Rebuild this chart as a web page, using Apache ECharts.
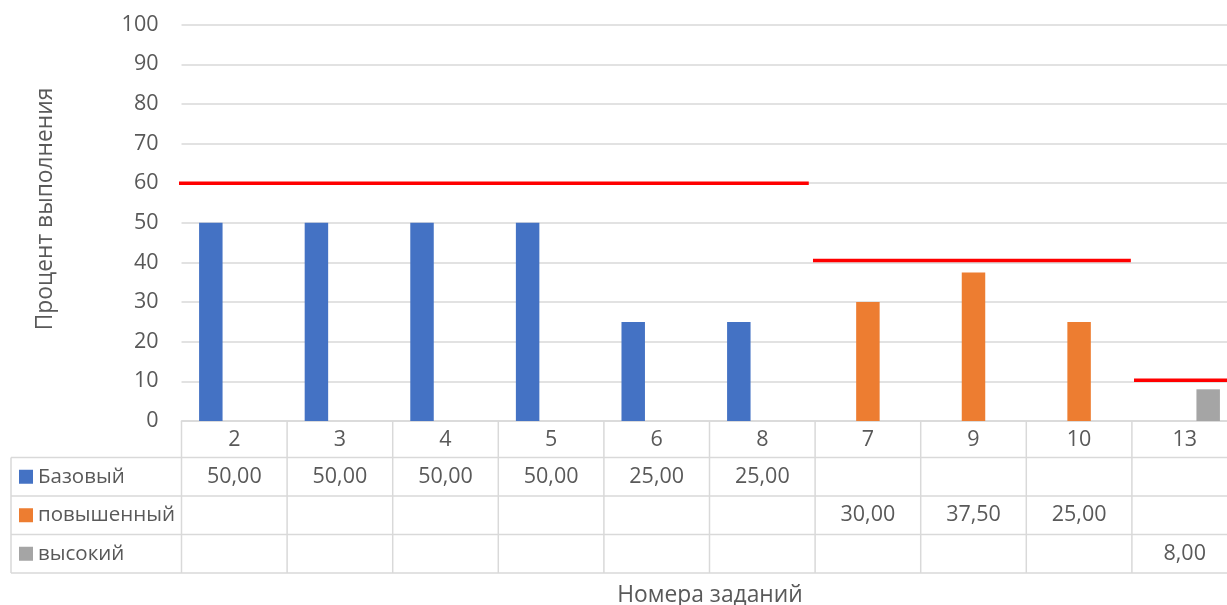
<!DOCTYPE html>
<html><head><meta charset="utf-8">
<script src="https://cdn.jsdelivr.net/npm/echarts@6/dist/echarts.min.js"></script>
<style>html,body{margin:0;padding:0;background:#fff;overflow:hidden}#c{width:1227px;height:605px}</style>
</head><body><div id="c"></div>
<script>
// ---- data ----
const categories = ['2', '3', '4', '5', '6', '8', '7', '9', '10', '13'];
const seriesNames = ['Базовый', 'повышенный', 'высокий'];
const baseValues = [50, 50, 50, 50, 25, 25, null, null, null, null];
const advancedValues = [null, null, null, null, null, null, 30, 37.5, 25, null];
const highValues = [null, null, null, null, null, null, null, null, null, 8];
const seriesColors = ['#4472C4', '#ED7D31', '#A5A5A5'];
const yMin = 0, yMax = 100, yInterval = 10;
// threshold lines: level and span in category units
const thresholdLevels = [60, 40.5, 10.3];
const thresholdFrom = [-0.03, 5.98, 9.02];
const thresholdTo = [5.94, 8.99, 10];
const yAxisTitle = 'Процент выполнения';
const xAxisTitle = 'Номера заданий';

const FONT = '"Open Sans", "Noto Sans", sans-serif';
const TXT = '#595959';
const GRIDC = '#D9D9D9';
const FS = 21.5;      // numbers
const FS_LEG = 20.5;  // legend names in table
const FS_TITLE = 22.8;

const allValues = [baseValues, advancedValues, highValues];
const chart = echarts.init(document.getElementById('c'), null, {renderer: 'canvas'});

const series = allValues.map((vals, i) => ({
  name: seriesNames[i], type: 'bar', data: vals, xAxisIndex: 0, yAxisIndex: 0,
  barCategoryGap: '33.3%', barGap: '0%',
  itemStyle: {color: seriesColors[i]}, silent: true
}));
thresholdLevels.forEach((lv, i) => {
  series.push({
    type: 'line', xAxisIndex: 1, yAxisIndex: 0, symbol: 'none', silent: true,
    data: [[thresholdFrom[i], lv], [thresholdTo[i], lv]],
    lineStyle: {color: '#FF0000', width: 3.5}, z: 5
  });
});

chart.setOption({
  animation: false,
  backgroundColor: '#fff',
  grid: {left: 181.5, top: 24.7, width: 1056, height: 396.3, containLabel: false, outerBoundsMode: 'none'},
  xAxis: [{
    type: 'category', data: categories, boundaryGap: true,
    axisLine: {show: true, lineStyle: {color: GRIDC, width: 1.5}},
    axisTick: {show: false},
    axisLabel: {show: true, interval: 0, margin: 8, color: TXT, fontSize: FS, fontFamily: FONT},
    splitLine: {show: false}
  }, {
    type: 'value', min: 0, max: 10, show: false, gridIndex: 0
  }],
  yAxis: [{
    type: 'value', min: yMin, max: yMax, interval: yInterval,
    axisLine: {show: false}, axisTick: {show: false},
    axisLabel: {margin: 23, color: TXT, fontSize: FS, fontFamily: FONT},
    splitLine: {show: true, lineStyle: {color: GRIDC, width: 1.5}}
  }],
  series: series
});

function fmt(v) { return v == null ? '' : v.toFixed(2).replace('.', ','); }

function buildTable() {
  const y0 = chart.convertToPixel({yAxisIndex: 0}, 0);
  const bx = [];
  for (let i = 0; i <= categories.length; i++) bx.push(chart.convertToPixel({xAxisIndex: 1}, i));
  const headerH = 36.5, rowH = 38.5, leftX = 11;
  const rowTop = y0 + headerH;
  const bottom = rowTop + rowH * 3;
  const els = [];
  const ls = {stroke: GRIDC, lineWidth: 1.5};
  bx.forEach(x => els.push({type: 'line', shape: {x1: x, y1: y0, x2: x, y2: bottom}, style: ls, silent: true}));
  els.push({type: 'line', shape: {x1: leftX, y1: rowTop, x2: leftX, y2: bottom}, style: ls, silent: true});
  for (let r = 0; r <= 3; r++) {
    const y = rowTop + rowH * r;
    els.push({type: 'line', shape: {x1: leftX, y1: y, x2: bx[bx.length - 1], y2: y}, style: ls, silent: true});
  }
  allValues.forEach((vals, r) => {
    const cy = rowTop + rowH * r + rowH / 2;
    els.push({type: 'rect', shape: {x: 19, y: cy - 7, width: 14, height: 14}, style: {fill: seriesColors[r]}, silent: true});
    els.push({type: 'text', x: 38, y: cy, style: {text: seriesNames[r], fill: TXT, font: FS_LEG + 'px ' + FONT, align: 'left', verticalAlign: 'middle'}, silent: true});
    vals.forEach((v, c) => {
      if (v == null) return;
      els.push({type: 'text', x: (bx[c] + bx[c + 1]) / 2, y: cy, style: {text: fmt(v), fill: TXT, font: FS + 'px ' + FONT, align: 'center', verticalAlign: 'middle'}, silent: true});
    });
  });
  els.push({type: 'text', x: 46, y: 209, rotation: Math.PI / 2, style: {text: yAxisTitle, fill: TXT, font: FS_TITLE + 'px ' + FONT, align: 'center', verticalAlign: 'middle'}, silent: true});
  els.push({type: 'text', x: 710, y: 596, style: {text: xAxisTitle, fill: TXT, font: FS_TITLE + 'px ' + FONT, align: 'center', verticalAlign: 'middle'}, silent: true});
  chart.setOption({graphic: {elements: els}});
}
buildTable();
</script></body></html>
